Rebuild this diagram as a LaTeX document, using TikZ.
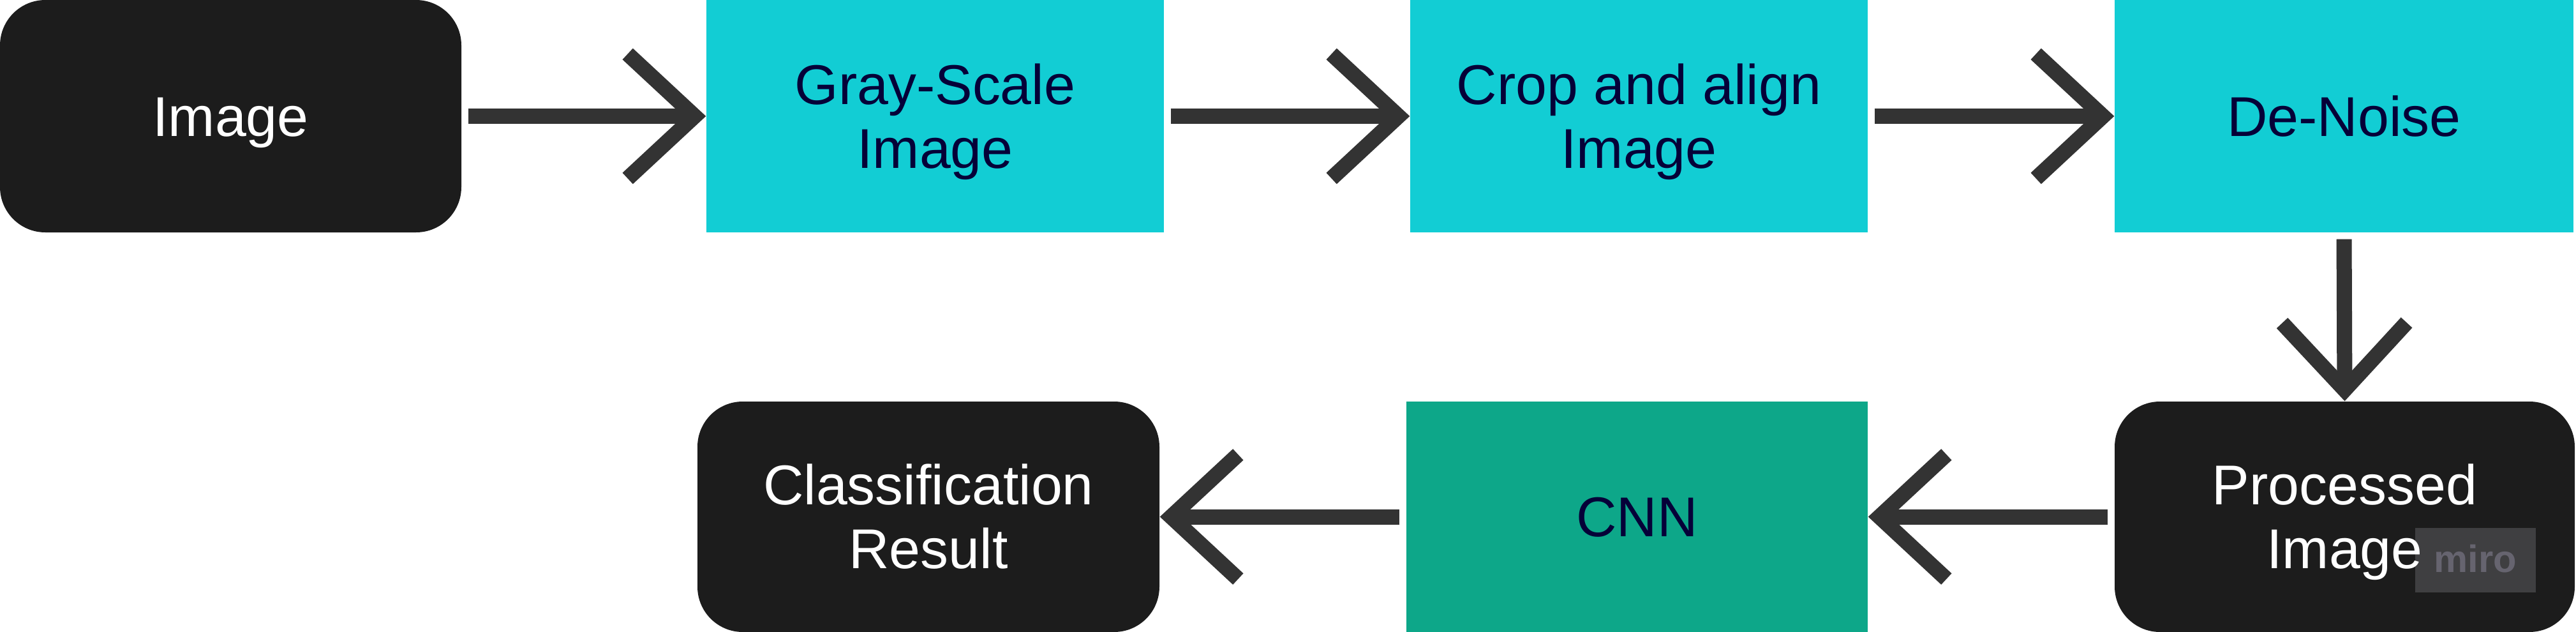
\documentclass[tikz,border=0pt]{standalone}
\usepackage{fontspec}
\setmainfont{Liberation Sans}
\usetikzlibrary{arrows.meta}
\definecolor{boxcyan}{HTML}{12CDD4}
\definecolor{boxgreen}{HTML}{0DA789}
\definecolor{boxblack}{HTML}{1C1C1C}
\definecolor{arrowgray}{HTML}{333333}
\definecolor{navytext}{HTML}{050038}
\definecolor{miroback}{HTML}{3F3F41}
\definecolor{mirotext}{HTML}{66646F}
\tikzset{
  stepbox/.style={rectangle, inner sep=0pt, minimum height=3.63cm,
    font=\fontsize{25}{28.45}\selectfont, align=center, text height=17.9pt, text depth=0pt},
  twolines/.style={text height=46.35pt, text depth=0pt},
  darkbox/.style={stepbox, fill=boxblack, text=white, rounded corners=0.71cm},
  cyanbox/.style={stepbox, fill=boxcyan, text=navytext},
  greenbox/.style={stepbox, fill=boxgreen, text=navytext},
  flow/.style={draw=arrowgray, line width=2.4mm,
    -{Straight Barb[length=10.5mm, width=19.5mm]}, shorten <=1mm},
}
\begin{document}
\begin{tikzpicture}
\useasboundingbox (0,0) rectangle (40.37,-9.90);
% top row
\node[darkbox, minimum width=7.23cm, minimum height=3.64cm] (img) at (3.615,-1.82) {Image};
\node[cyanbox, twolines, minimum width=7.17cm, minimum height=3.64cm] (gray) at (14.655,-1.82) {Gray-Scale\\Image};
\node[cyanbox, twolines, minimum width=7.17cm, minimum height=3.64cm] (crop) at (25.685,-1.82) {Crop and align\\Image};
\node[cyanbox, minimum width=7.19cm, minimum height=3.64cm] (den) at (36.735,-1.82) {De-Noise};
% bottom row
\node[darkbox, twolines, minimum width=7.21cm, minimum height=3.61cm,
  path picture={
    \fill[miroback, sharp corners] ([xshift=-2.505cm,yshift=0.62cm]path picture bounding box.south east)
      rectangle ([xshift=-0.615cm,yshift=1.63cm]path picture bounding box.south east);
    \node[anchor=base, inner sep=0pt, text=mirotext, text height=, text depth=,
      font=\fontsize{17}{17}\bfseries] (miro)
      at ([xshift=-1.56cm,yshift=0.94cm]path picture bounding box.south east) {miro};
  }] (proc) at (36.745,-8.095) {Processed\\Image};
\node[greenbox, minimum width=7.23cm, minimum height=3.61cm] (cnn) at (25.655,-8.095) {CNN};
\node[darkbox, twolines, minimum width=7.24cm, minimum height=3.61cm] (cls) at (14.55,-8.095) {Classification\\Result};
% connectors
\draw[flow] (img.east) -- (gray.west);
\draw[flow] (gray.east) -- (crop.west);
\draw[flow] (crop.east) -- (den.west);
\draw[flow] (den.south) -- (proc.north);
\draw[flow] (proc.west) -- (cnn.east);
\draw[flow] (cnn.west) -- (cls.east);
\end{tikzpicture}
\end{document}
